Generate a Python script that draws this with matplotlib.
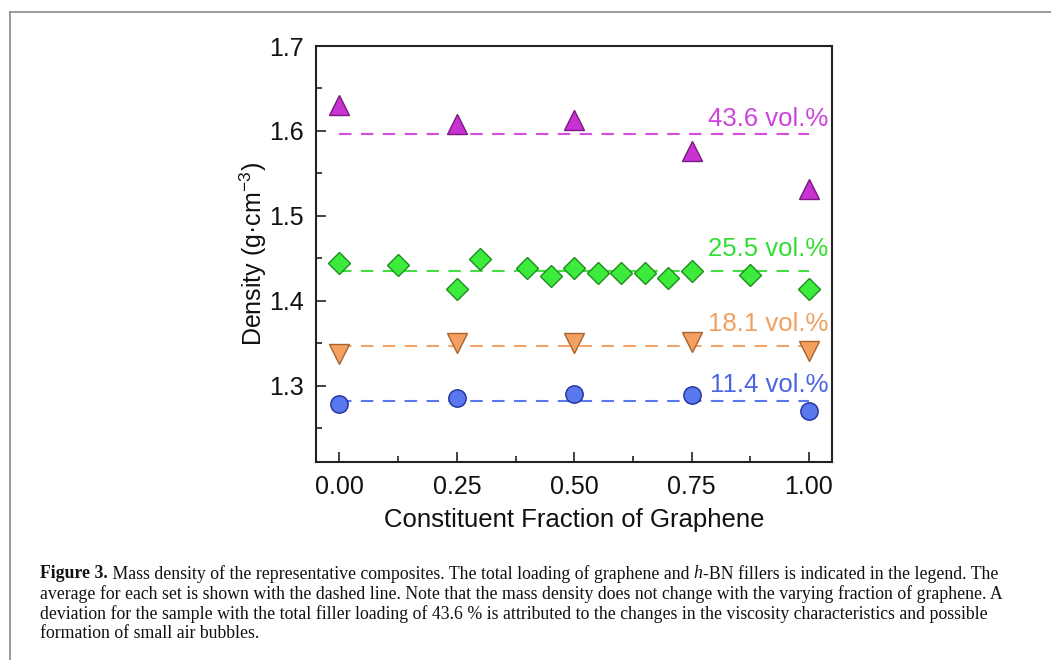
import matplotlib
matplotlib.use("Agg")
import matplotlib.pyplot as plt
from matplotlib.lines import Line2D
from matplotlib.ticker import MultipleLocator

# ---- data ----
x_mag = [0.0, 0.25, 0.5, 0.75, 1.0]
y_mag = [1.631, 1.608, 1.613, 1.576, 1.532]
avg_mag = 1.596

x_grn = [0.0, 0.125, 0.25, 0.30, 0.40, 0.45, 0.50, 0.55, 0.60, 0.65, 0.70, 0.75, 0.875, 1.0]
y_grn = [1.444, 1.442, 1.414, 1.449, 1.439, 1.429, 1.439, 1.433, 1.433, 1.433, 1.427, 1.435, 1.430, 1.414]
avg_grn = 1.435

x_org = [0.0, 0.25, 0.5, 0.75, 1.0]
y_org = [1.337, 1.350, 1.350, 1.351, 1.341]
avg_org = 1.347

x_blu = [0.0, 0.25, 0.5, 0.75, 1.0]
y_blu = [1.278, 1.285, 1.290, 1.289, 1.270]
avg_blu = 1.282

labels = ["43.6 vol.%", "25.5 vol.%", "18.1 vol.%", "11.4 vol.%"]
xticks = [0.0, 0.25, 0.5, 0.75, 1.0]
xticklabels = ["0.00", "0.25", "0.50", "0.75", "1.00"]
yticks = [1.3, 1.4, 1.5, 1.6, 1.7]
yticklabels = ["1.3", "1.4", "1.5", "1.6", "1.7"]

W, H = 1051, 660
fig = plt.figure(figsize=(W / 100, H / 100), dpi=100)
fig.patch.set_facecolor("white")

ax = fig.add_axes([316 / W, 1 - 462 / H, (831.5 - 316) / W, (462 - 46) / H])
sans = "Liberation Sans"

series = [
    (x_mag, y_mag, avg_mag, "^", 14.5, "#C832D2", "#7A1A80", "#D84BE0", "#CC44DD", labels[0], 1.614),
    (x_grn, y_grn, avg_grn, "D", 11.0, "#3CEB3C", "#1E8C1E", "#44DD44", "#33DD33", labels[1], 1.461),
    (x_org, y_org, avg_org, "v", 14.5, "#F4A060", "#A8642E", "#F2A468", "#F0A060", labels[2], 1.372),
    (x_blu, y_blu, avg_blu, "o", 12.5, "#5A78EE", "#1E2E9A", "#5A78EE", "#4A66E0", labels[3], 1.301),
]

for xs, ys, avg, mk, ms, fc, ec, lc, tc, lab, ty in series:
    ax.plot([0.0, 1.0], [avg, avg], linestyle=(0, (6, 4.5)), color=lc, lw=1.5, zorder=2)
    ax.plot(xs, ys, linestyle="none", marker=mk, markersize=ms,
            markerfacecolor=fc, markeredgecolor=ec, markeredgewidth=1.0, zorder=3)
    ax.text(1.042, ty, lab, color=tc, fontsize=18.5, family=sans, ha="right", va="center")

ax.set_xlim(-0.05, 1.048)
ax.set_ylim(1.21, 1.70)
ax.set_xticks(xticks)
ax.set_xticklabels(xticklabels)
ax.set_yticks(yticks)
ax.set_yticklabels(yticklabels)
ax.xaxis.set_minor_locator(MultipleLocator(0.125))
ax.yaxis.set_minor_locator(MultipleLocator(0.05))
ax.tick_params(which="both", direction="in", top=False, right=False, width=1.2, color="#222222")
ax.tick_params(which="major", length=7, labelsize=18, pad=9)
ax.tick_params(which="minor", length=4)
for t in ax.get_xticklabels() + ax.get_yticklabels():
    t.set_family(sans)
    t.set_color("#111111")
for s in ax.spines.values():
    s.set_linewidth(1.5)
    s.set_color("#222222")

ax.set_xlabel("Constituent Fraction of Graphene", fontsize=18.5, family=sans, labelpad=7, color="#111111")
ax.set_ylabel("Density (g\u00b7cm$^{\\mathregular{-3}}$)", fontsize=18, family=sans, labelpad=0, color="#111111")

# ---- outer frame ----
fig.add_artist(Line2D([10 / W, 10 / W], [0, 1 - 12 / H], color="#8a8a8a", lw=1.2, transform=fig.transFigure))
fig.add_artist(Line2D([10 / W, 1], [1 - 12 / H, 1 - 12 / H], color="#8a8a8a", lw=1.2, transform=fig.transFigure))

# ---- caption ----
serif = "Liberation Serif"
cap_lines = [
    [("Figure 3.", "bold", "normal"),
     (" Mass density of the representative composites. The total loading of graphene and ", "normal", "normal"),
     ("h", "normal", "italic"),
     ("-BN fillers is indicated in the legend. The", "normal", "normal")],
    [("average for each set is shown with the dashed line. Note that the mass density does not change with the varying fraction of graphene. A", "normal", "normal")],
    [("deviation for the sample with the total filler loading of 43.6 % is attributed to the changes in the viscosity characteristics and possible", "normal", "normal")],
    [("formation of small air bubbles.", "normal", "normal")],
]
cap_y = [574, 594, 614, 634]
cap_x0 = 40
cap_fs = 12.8

renderer = fig.canvas.get_renderer()
for parts, yy in zip(cap_lines, cap_y):
    x = cap_x0
    for txt, wt, st in parts:
        t = fig.text(x / W, 1 - yy / H, txt, fontsize=cap_fs, family=serif, weight=wt,
                     style=st, ha="left", va="center", color="#111111")
        bb = t.get_window_extent(renderer=renderer)
        x += bb.width

fig.savefig("out.png", dpi=100, facecolor="white")
